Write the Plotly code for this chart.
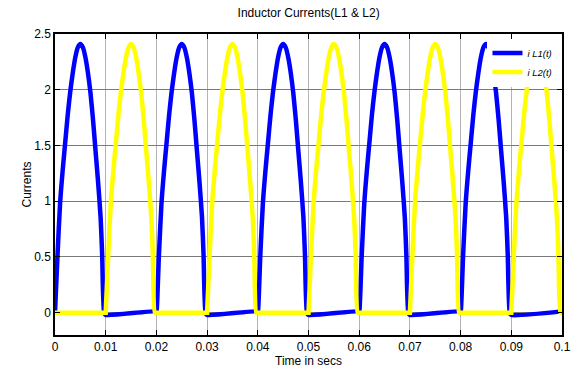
import plotly.graph_objects as go

# ---- data ----
# one current pulse (offset in s from the start of its conduction interval, amps)
pulse_offsets = [0, 0.0005, 0.001, 0.0015, 0.002, 0.0025, 0.003, 0.0035, 0.004, 0.0045,
                 0.005, 0.0055, 0.006, 0.0065, 0.007, 0.0075, 0.008, 0.0085, 0.009, 0.0093, 0.0097]
pulse_values = [0, 0.52, 0.98, 1.27, 1.52, 1.77, 1.98, 2.15, 2.29, 2.38,
                2.41, 2.38, 2.29, 2.15, 1.97, 1.73, 1.45, 1.17, 0.85, 0.52, 0]
L1_pulse_starts = [0.0, 0.02, 0.04, 0.06, 0.08]
L2_pulse_starts = [0.01, 0.03, 0.05, 0.07, 0.09]
L1_off_start_value = -0.02   # small ramp of iL1 while L2 conducts
L1_off_end_value = 0.012
L2_off_value = 0.0
period_half = 0.01

x_tick_vals = [0, 0.01, 0.02, 0.03, 0.04, 0.05, 0.06, 0.07, 0.08, 0.09, 0.1]
x_tick_text = ["0", "0.01", "0.02", "0.03", "0.04", "0.05", "0.06", "0.07", "0.08", "0.09", "0.1"]
y_tick_vals = [0, 0.5, 1, 1.5, 2, 2.5]
y_tick_text = ["0", "0.5", "1", "1.5", "2", "2.5"]

# ---- build series ----
t1, i1 = [], []
for s in L1_pulse_starts:
    for o, v in zip(pulse_offsets, pulse_values):
        t1.append(s + o); i1.append(v)
    t1.append(s + period_half); i1.append(L1_off_start_value)
    t1.append(s + 2 * period_half - 0.0001); i1.append(L1_off_end_value)

t2, i2 = [0.0], [L2_off_value]
for s in L2_pulse_starts:
    t2.append(s); i2.append(L2_off_value)
    for o, v in zip(pulse_offsets, pulse_values):
        t2.append(s + o); i2.append(v)
    t2.append(s + period_half); i2.append(L2_off_value)

FONT = "Liberation Sans, Arial, sans-serif"

fig = go.Figure()
fig.add_trace(go.Scatter(x=t1, y=i1, mode="lines", name="<i>i L1(t)</i>",
                         line=dict(color="#0000FF", width=4.5, shape="spline", smoothing=0.6)))
fig.add_trace(go.Scatter(x=t2, y=i2, mode="lines", name="<i>i L2(t)</i>",
                         line=dict(color="#FFFF00", width=4.5, shape="spline", smoothing=0.6)))

fig.update_layout(
    width=579, height=374,
    margin=dict(l=55, r=17, t=34, b=39),
    paper_bgcolor="white", plot_bgcolor="white",
    font=dict(family=FONT, size=12, color="black"),
    title=dict(text="Inductor Currents(L1 & L2)", x=0.533, xanchor="center",
               y=0.965, yanchor="middle", font=dict(size=12)),
    showlegend=True,
    legend=dict(x=0.853, y=0.985, xanchor="left", yanchor="top",
                bgcolor="white", borderwidth=0, font=dict(size=9.5),
                itemwidth=30, tracegroupgap=0),
)
fig.update_xaxes(range=[0, 0.1], tickvals=x_tick_vals, ticktext=x_tick_text,
                 showgrid=True, gridcolor="#b4b4b4", gridwidth=1,
                 showline=True, linecolor="black", linewidth=1.5, mirror="ticks",
                 ticks="inside", ticklen=5, tickcolor="black",
                 zeroline=False, automargin=False,
                 title=dict(text="Time in secs", standoff=2, font=dict(size=12)))
fig.update_yaxes(range=[-0.2, 2.5], tickvals=y_tick_vals, ticktext=y_tick_text,
                 showgrid=True, gridcolor="#7a7a7a", gridwidth=1,
                 showline=True, linecolor="black", linewidth=1.5, mirror="ticks",
                 ticks="inside", ticklen=5, tickcolor="black",
                 zeroline=False, automargin=False,
                 title=dict(text="Currents", standoff=0, font=dict(size=12)))

fig.write_html("out.html", config={"displayModeBar": False},
               post_script="document.body.style.margin='0';document.body.style.overflow='hidden';")
